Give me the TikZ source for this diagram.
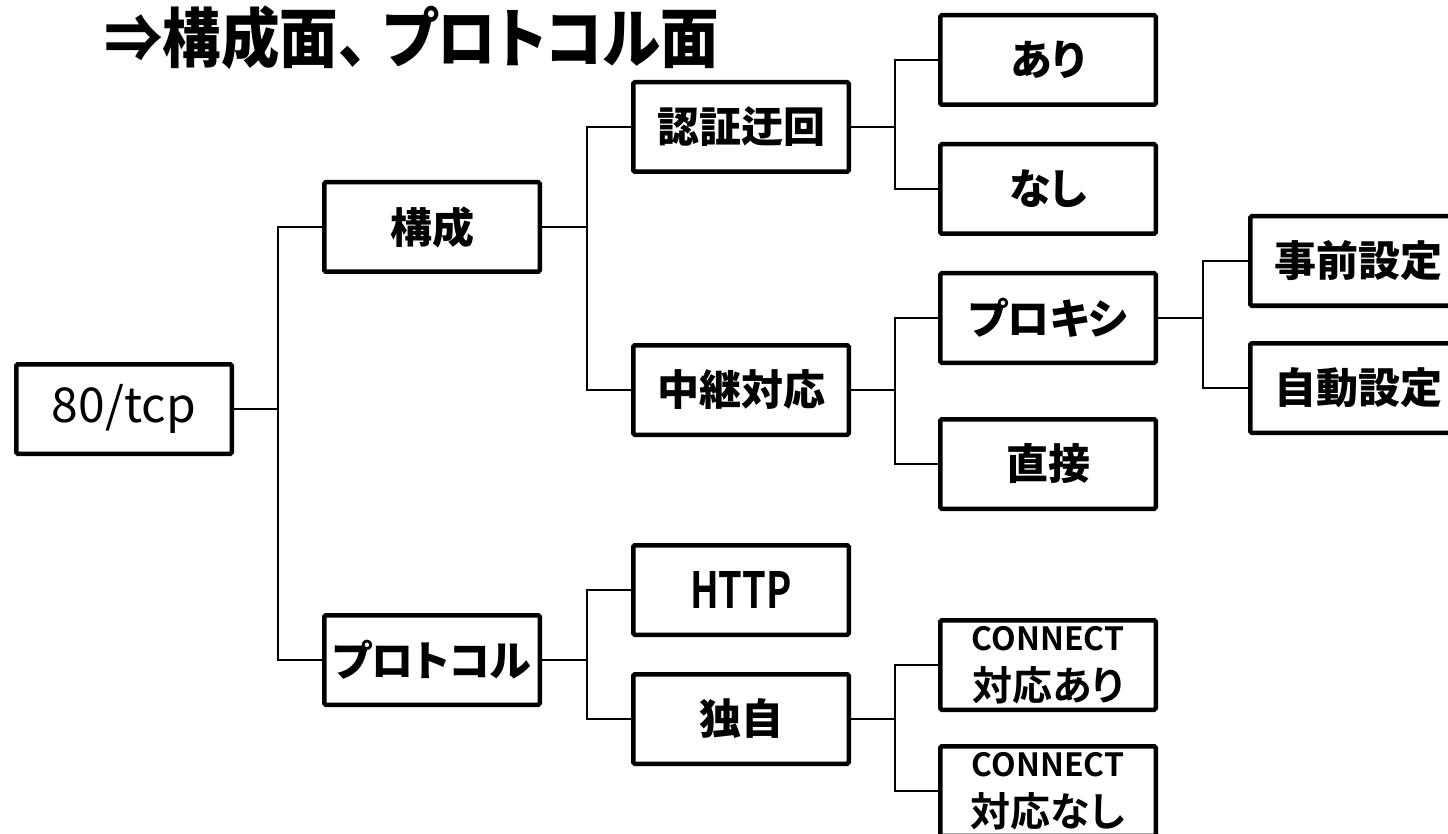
\documentclass[tikz,border=0pt]{standalone}
\usepackage{fontspec}
\usetikzlibrary{calc}
\newfontfamily\jptitle{Noto Sans CJK JP Black}[FakeStretch=0.9,RawFeature=+palt]
\newfontfamily\jplbl{Noto Sans CJK JP Black}[RawFeature=+palt]
\newfontfamily\jpbold{Noto Sans CJK JP Bold}[RawFeature=+palt]
\newfontfamily\jpreg{Noto Sans CJK JP}
\newcommand\treelink[2]{\draw[link] (#1.east) -| ($(#1.east)!.5!(#2.west)$) |- (#2.west);}
\begin{document}
\begin{tikzpicture}[x=1pt,y=1pt,
  box/.style={draw=black, line width=4.5pt, minimum width=215.5pt, minimum height=89.5pt,
              inner sep=0pt, fill=white, rounded corners=1.5pt},
  lbl/.style={font=\jplbl\fontsize{42}{42}\selectfont},
  twoline/.style={align=center, font=\jpbold\fontsize{40}{50}\selectfont},
  link/.style={line width=2pt, draw=black}]
\useasboundingbox (0,0) rectangle (1448,-834);
\clip (0,0) rectangle (1448,-834);
\fill[white] (0,0) rectangle (1448,-834);

\node[anchor=west, inner sep=0pt, font=\jptitle\fontsize{65}{65}\selectfont] (title) at (104,-38) {⇒構成面、\kern16pt プロトコル面};

\node[box, font=\jpreg\fontsize{48}{48}\selectfont] (tcp) at (124,-409) {80/tcp};
\node[box,lbl] (kousei) at (432,-227) {構成};
\node[box,lbl] (proto) at (432,-660) {プロトコル};
\node[box,lbl] (ninsho) at (741,-127) {認証迂回};
\node[box,lbl] (chukei) at (741,-390) {中継対応};
\node[box,font=\jpbold\fontsize{50}{50}\selectfont] (http) at (741,-590) {\scalebox{0.76}[1]{HTTP}};
\node[box,lbl] (dokuji) at (741,-719) {独自};
\node[box,lbl] (ari) at (1048,-60) {あり};
\node[box,lbl] (nashi) at (1048,-189) {なし};
\node[box,lbl] (proxy) at (1048,-318) {プロキシ};
\node[box,lbl] (choku) at (1048,-464) {直接};
\node[box,twoline] (cari) at (1048,-665) {{\fontsize{32}{32}\selectfont CONNECT}\\対応あり};
\node[box,twoline] (cnashi) at (1048,-791) {{\fontsize{32}{32}\selectfont CONNECT}\\対応なし};
\node[box,lbl] (jizen) at (1358,-261) {事前設定};
\node[box,lbl] (jido) at (1358,-388) {自動設定};

\treelink{tcp}{kousei}
\treelink{tcp}{proto}
\treelink{kousei}{ninsho}
\treelink{kousei}{chukei}
\treelink{ninsho}{ari}
\treelink{ninsho}{nashi}
\treelink{chukei}{proxy}
\treelink{chukei}{choku}
\treelink{proxy}{jizen}
\treelink{proxy}{jido}
\treelink{proto}{http}
\treelink{proto}{dokuji}
\treelink{dokuji}{cari}
\treelink{dokuji}{cnashi}
\end{tikzpicture}
\end{document}
